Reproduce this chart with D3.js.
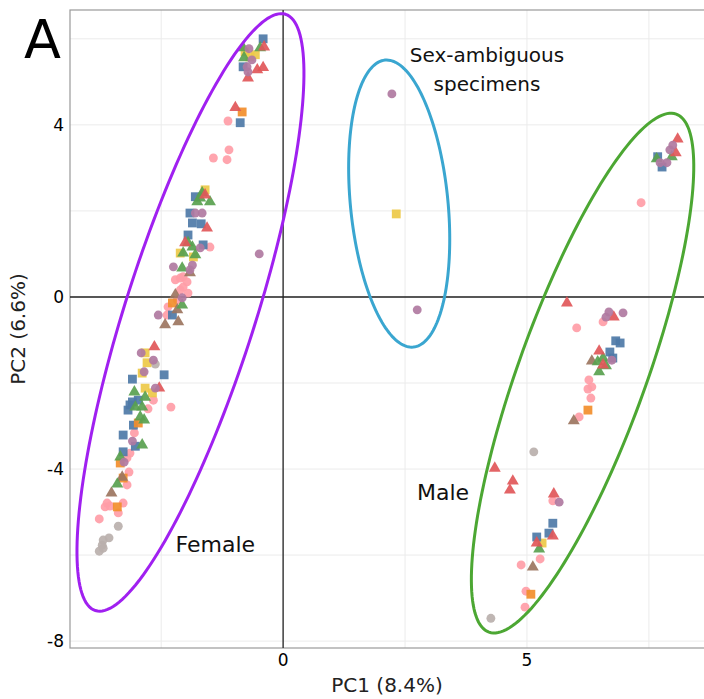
<!DOCTYPE html>
<html>
<head>
<meta charset="utf-8">
<style>
  body { margin: 0; background: #fff; }
  svg { display: block; font-family: "DejaVu Sans", Verdana, sans-serif; }
  .tick-label { font-size: 17px; fill: #000; }
  .axis-title { font-size: 20px; fill: #222; }
  .note { font-size: 20px; fill: #111; }
  .note.big { font-size: 22px; }
</style>
</head>
<body>
<svg width="704" height="699"></svg>
<script src="https://d3js.org/d3.v7.min.js"></script>
<script>
// axis ticks
const xTicks = [0, 5];
const yTicks = [-8, -4, 0, 4];
const xGrid = [-2.5, 0, 2.5, 5, 7.5];
const yGrid = [-8, -6, -4, -2, 0, 2, 4, 6];

// point groups: [PC1, PC2]
const redTri = [[-0.39,5.81],[-0.53,5.28],[-0.41,5.33],[-0.72,5.09],[-0.98,4.40],[-1.56,1.60],[-2.01,1.26],[-1.60,2.37],
  [-2.64,-1.16],[-2.54,-2.12],[5.82,-0.14],[6.78,-0.47],[6.48,-1.26],[6.56,-1.58],[4.34,-3.98],[4.71,-4.28],[4.65,-4.49],
  [5.55,-4.58],[5.53,-5.56],[5.20,-5.72],[8.09,3.67],[8.05,3.35]];
const blueSq = [[-0.41,6.00],[-0.82,5.35],[-0.88,4.05],[-1.80,2.33],[-1.91,1.95],[-1.86,1.72],[-1.68,1.70],[-1.95,1.44],
  [-1.64,1.21],[-2.27,-0.42],[-3.09,-1.91],[-2.44,-1.81],[-3.09,-2.44],[-3.18,-2.63],[-2.97,-2.40],[-3.07,-2.98],
  [-3.28,-3.21],[-3.03,-3.47],[-3.28,-3.60],[-3.14,-2.51],[6.82,-1.02],[6.91,-1.07],[6.70,-1.28],[6.76,-1.42],
  [5.53,-5.26],[5.45,-5.49],[5.20,-5.58],[7.77,3.02],[7.68,3.26]];
const greenTri = [[-0.47,5.79],[-0.82,5.79],[-0.80,5.56],[-1.66,2.42],[-1.76,2.21],[-1.50,2.21],[-1.70,2.30],[-1.95,1.26],
  [-1.86,1.16],[-2.05,1.02],[-1.80,0.98],[-2.07,0.67],[-2.07,-0.19],[-3.05,-2.21],[-2.83,-2.33],[-3.03,-2.56],
  [-2.89,-2.56],[-2.93,-2.79],[-2.85,-2.86],[-2.89,-3.44],[-3.34,-3.72],[-3.40,-4.35],[6.45,-1.51],[6.56,-1.42],
  [6.62,-1.60],[6.48,-1.74],[5.25,-5.86],[7.66,3.21],[7.97,3.26]];
const brownTri = [[-1.91,0.56],[-2.21,0.05],[-2.17,-0.30],[-2.42,-0.65],[-2.15,-0.58],[-3.30,-4.19],[-3.52,-4.56],
  [6.33,-1.49],[5.96,-2.88],[5.12,-6.28]];
const orangeSq = [[-0.84,4.30],[-2.27,-0.14],[-2.97,-2.93],[-3.34,-3.86],[-3.28,-4.21],[-3.40,-4.88],[6.25,-2.63],[5.08,-6.91]];
const yellowSq = [[-0.78,5.70],[-0.57,5.63],[-0.68,5.58],[-1.60,2.49],[-2.11,1.02],[-1.84,0.93],[-2.83,-1.30],
  [-2.79,-1.53],[-2.89,-1.77],[-2.83,-2.12],[-2.68,-2.23],[2.32,1.93],[5.31,-5.72]];
const pinkCirc = [[-1.13,4.09],[-1.11,3.42],[-1.43,3.23],[-1.15,3.19],[-1.50,1.16],[-2.21,0.40],[-2.11,0.44],[-2.05,0.47],
  [-1.97,0.35],[-2.05,0.23],[-2.11,0.16],[-1.95,0.09],[-2.17,-0.07],[-2.36,-0.23],[-2.38,-0.42],[-2.66,-2.40],
  [-2.77,-2.60],[-2.30,-2.56],[-3.05,-3.16],[-3.14,-3.63],[-3.20,-3.74],[-3.16,-4.07],[-3.20,-4.37],[-3.61,-4.79],
  [-3.65,-4.88],[-3.55,-4.86],[-3.28,-4.79],[-3.38,-5.02],[-3.77,-5.16],[7.34,2.19],[6.56,-0.58],[6.02,-0.72],
  [6.27,-1.93],[6.25,-2.14],[6.33,-2.09],[6.31,-2.35],[6.07,-2.79],[5.53,-4.74],[5.27,-6.09],[4.88,-6.23],
  [4.98,-6.84],[4.96,-7.21]];
const purpleCirc = [[-0.70,5.77],[-0.74,5.35],[-0.72,5.23],[-0.64,5.51],[-1.80,1.95],[-1.66,1.95],[-1.70,1.14],
  [-2.25,0.70],[-1.86,0.74],[-1.91,0.63],[-2.07,-0.02],[-2.56,-0.42],[-0.49,1.00],[-2.91,-1.30],[-2.66,-1.47],
  [-2.85,-1.74],[-2.62,-2.12],[-3.09,-3.35],[-3.26,-3.84],[2.23,4.72],[2.75,-0.30],[6.97,-0.37],[6.68,-0.35],
  [6.62,-0.47],[6.74,-1.47],[5.66,-4.77],[7.99,3.53],[7.93,3.42],[7.87,3.12],[7.73,3.12]];
const greyCirc = [[-2.62,-1.56],[-3.38,-5.33],[-3.57,-5.60],[-3.69,-5.65],[-3.71,-5.77],[-3.77,-5.91],[-3.69,-5.84],
  [5.14,-3.60],[4.26,-7.47]];

const groups = [
  { pts: pinkCirc, color: "#FF9DA7", shape: "circle" },
  { pts: greyCirc, color: "#BAB0AC", shape: "circle" },
  { pts: yellowSq, color: "#EDC948", shape: "square" },
  { pts: blueSq, color: "#4E79A7", shape: "square" },
  { pts: orangeSq, color: "#F28E2B", shape: "square" },
  { pts: brownTri, color: "#9C755F", shape: "triangle" },
  { pts: greenTri, color: "#59A14F", shape: "triangle" },
  { pts: redTri, color: "#E15759", shape: "triangle" },
  { pts: purpleCirc, color: "#B07AA1", shape: "circle" }
];

// ellipses: centre, two half-axis vectors (data units)
const ellipses = [
  { c: [-1.90, -0.36], u: [1.95, 6.93], v: [1.27, -0.46], color: "#A020F0" },
  { c: [2.38, 2.17], u: [-0.29, 3.335], v: [0.995, 0.111], color: "#3AA6D0" },
  { c: [6.14, -1.77], u: [1.92, 6.02], v: [1.23, -0.50], color: "#4CA733" }
];

const notes = [
  { text: "Sex-ambiguous", x: 4.18, y: 5.63, big: false },
  { text: "specimens", x: 4.18, y: 4.95, big: false },
  { text: "Female", x: -1.39, y: -5.77, big: true },
  { text: "Male", x: 3.28, y: -4.56, big: true }
];

const svg = d3.select("svg");
const mLeft = 70, mRight = 704, mTop = 10, mBottom = 648;

const x = d3.scaleLinear().domain([-4.37, 8.63]).range([mLeft, mRight]);
const y = d3.scaleLinear().domain([-8.16, 6.67]).range([mBottom, mTop]);

// grid
svg.append("g").selectAll("line").data(xGrid).join("line")
  .attr("x1", d => x(d)).attr("x2", d => x(d))
  .attr("y1", mTop).attr("y2", mBottom)
  .style("stroke", "#ebebeb").style("stroke-width", 1);
svg.append("g").selectAll("line").data(yGrid).join("line")
  .attr("x1", mLeft).attr("x2", mRight)
  .attr("y1", d => y(d)).attr("y2", d => y(d))
  .style("stroke", "#ebebeb").style("stroke-width", 1);

// frame
svg.append("rect")
  .attr("x", mLeft).attr("y", mTop)
  .attr("width", mRight - mLeft + 5).attr("height", mBottom - mTop)
  .style("fill", "none").style("stroke", "#999").style("stroke-width", 1.2);

// zero lines
svg.append("line")
  .attr("x1", x(0)).attr("x2", x(0)).attr("y1", mTop).attr("y2", mBottom)
  .style("stroke", "#333").style("stroke-width", 1.4);
svg.append("line")
  .attr("x1", mLeft).attr("x2", mRight).attr("y1", y(0)).attr("y2", y(0))
  .style("stroke", "#222").style("stroke-width", 1.4);

// tick labels
svg.append("g").selectAll("text").data(xTicks).join("text")
  .attr("class", "tick-label")
  .attr("x", d => x(d)).attr("y", mBottom + 18)
  .attr("text-anchor", "middle")
  .text(d => d);
svg.append("g").selectAll("text").data(yTicks).join("text")
  .attr("class", "tick-label")
  .attr("x", mLeft - 6).attr("y", d => y(d) + 6)
  .attr("text-anchor", "end")
  .text(d => d);

// axis titles
svg.append("text").attr("class", "axis-title")
  .attr("x", (mLeft + mRight) / 2).attr("y", 692)
  .attr("text-anchor", "middle")
  .text("PC1 (8.4%)");
svg.append("text").attr("class", "axis-title")
  .attr("transform", `translate(25,${(mTop + mBottom) / 2}) rotate(-90)`)
  .attr("text-anchor", "middle")
  .text("PC2 (6.6%)");

// points
const shapes = { circle: d3.symbolCircle, square: d3.symbolSquare, triangle: d3.symbolTriangle };
const sizes = { circle: 62, square: 78, triangle: 62 };
groups.forEach(g => {
  svg.append("g").selectAll("path").data(g.pts).join("path")
    .attr("transform", d => `translate(${x(d[0])},${y(d[1])})`)
    .attr("d", d3.symbol().type(shapes[g.shape]).size(sizes[g.shape]))
    .style("fill", g.color)
    .style("opacity", 0.92);
});

// ellipses
const ellLine = d3.line().x(d => x(d[0])).y(d => y(d[1])).curve(d3.curveLinearClosed);
ellipses.forEach(e => {
  const pts = d3.range(0, 2 * Math.PI, Math.PI / 90).map(t => [
    e.c[0] + Math.cos(t) * e.u[0] + Math.sin(t) * e.v[0],
    e.c[1] + Math.cos(t) * e.u[1] + Math.sin(t) * e.v[1]
  ]);
  svg.append("path")
    .attr("d", ellLine(pts))
    .style("fill", "none")
    .style("stroke", e.color)
    .style("stroke-width", 3);
});

// annotations
svg.append("g").selectAll("text").data(notes).join("text")
  .attr("class", d => d.big ? "note big" : "note")
  .attr("x", d => x(d.x)).attr("y", d => y(d.y) + 7)
  .attr("text-anchor", "middle")
  .text(d => d.text);

// panel letter
svg.append("text")
  .attr("x", 24).attr("y", 58)
  .style("font-size", "54px")
  .style("fill", "#000")
  .text("A");
</script>
</body>
</html>
